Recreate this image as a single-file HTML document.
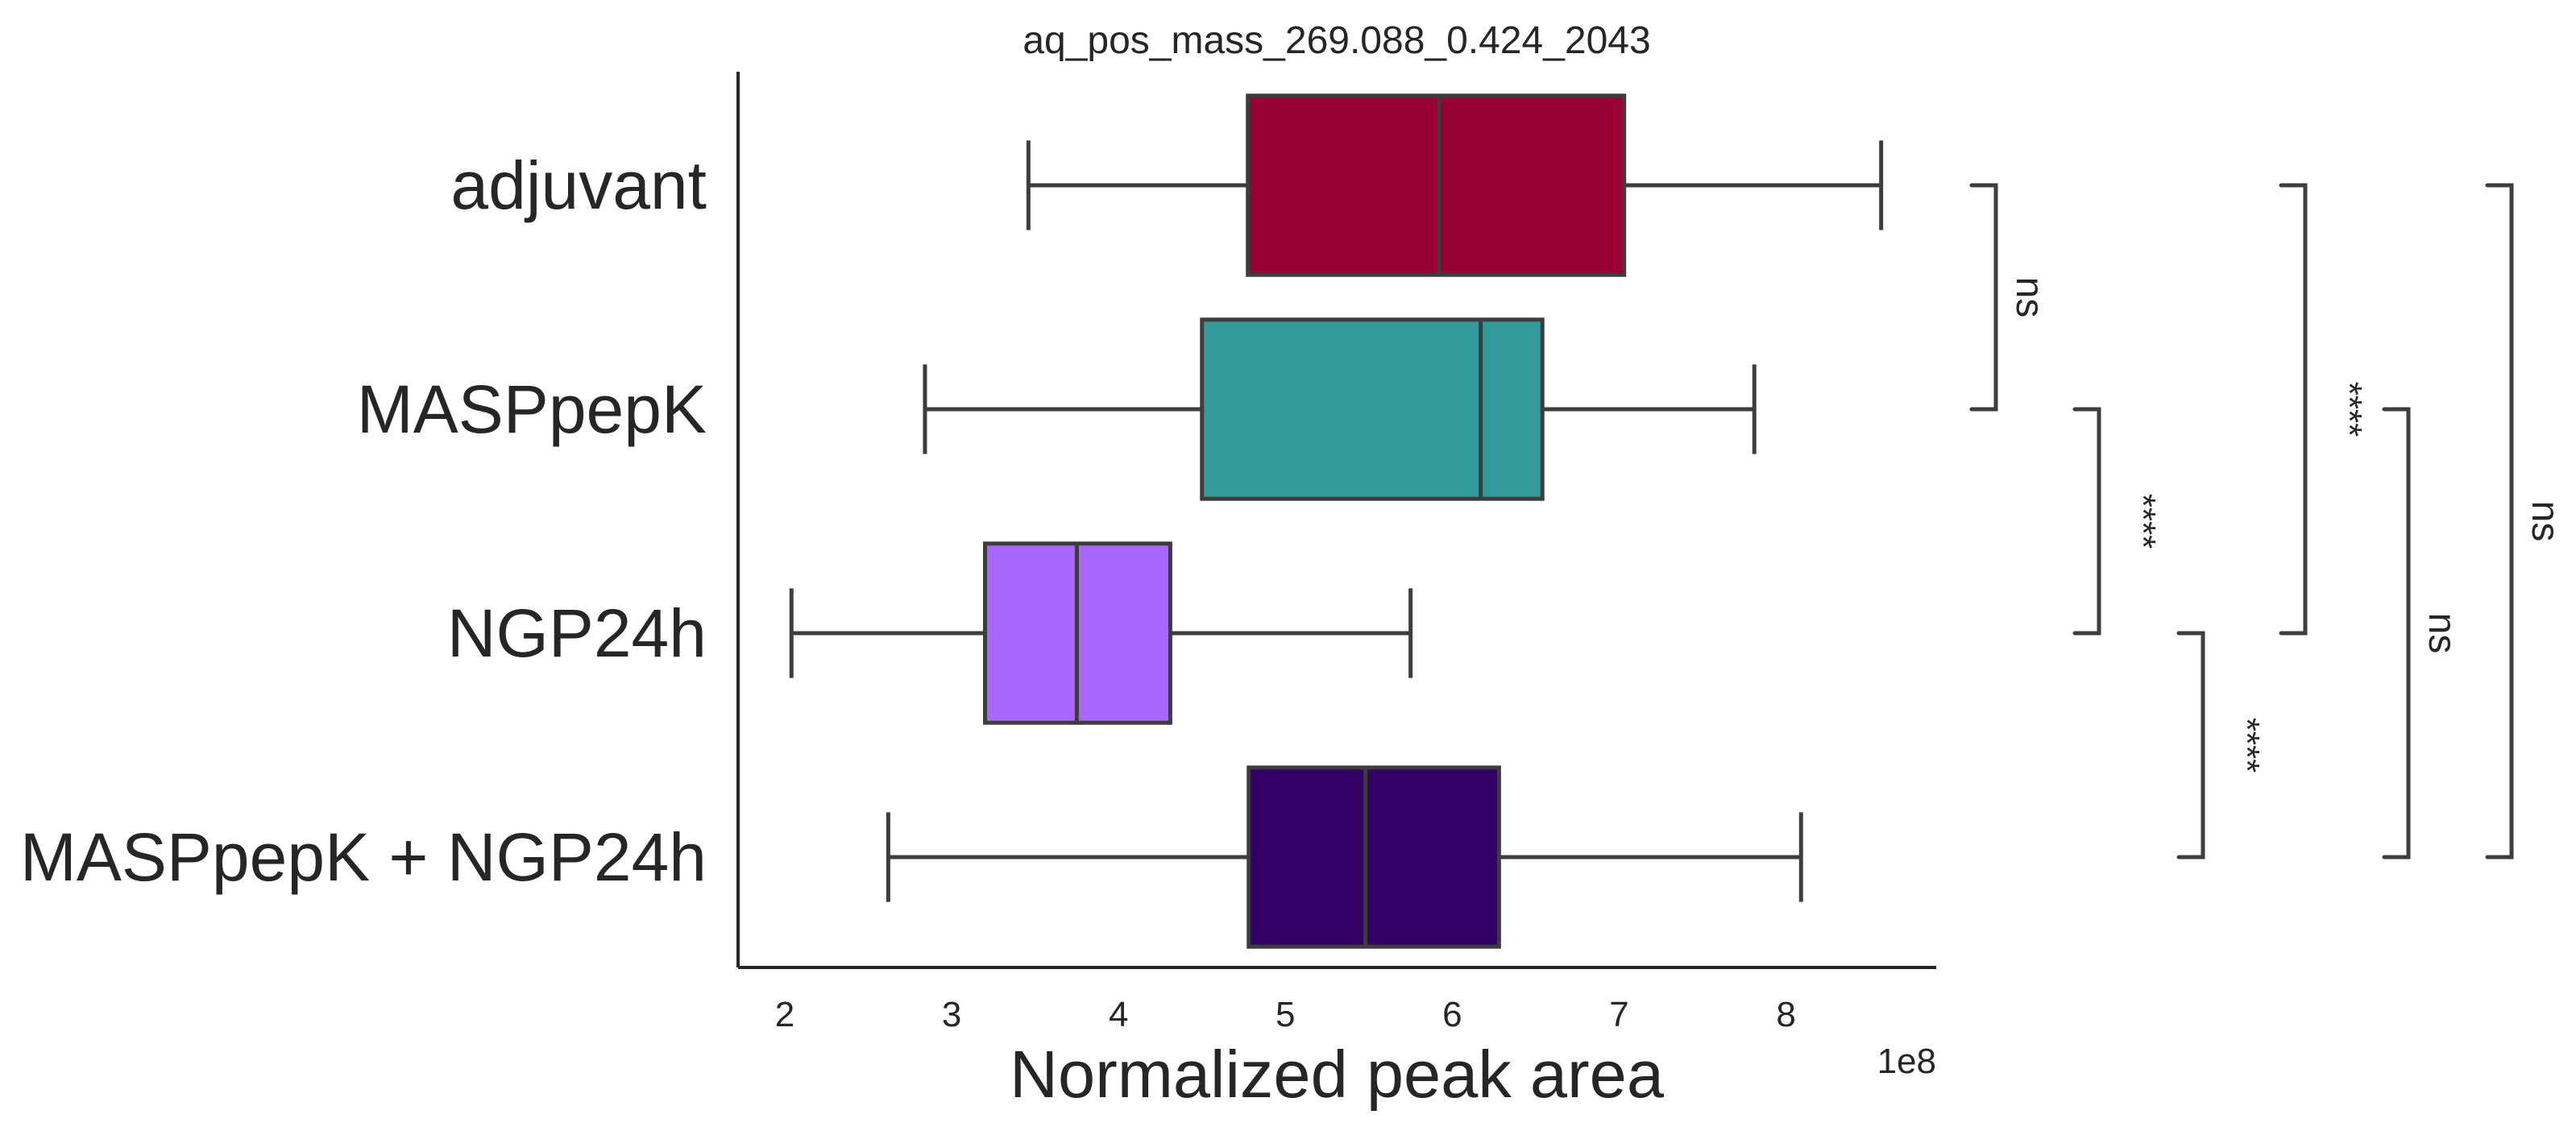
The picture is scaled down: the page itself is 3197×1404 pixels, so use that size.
<!DOCTYPE html>
<html><head><meta charset="utf-8"><style>
body{margin:0;background:#fff}
svg{display:block;font-family:"Liberation Sans",sans-serif}
</style></head><body>
<svg id="chart" width="3197" height="1404" viewBox="0 0 3197 1404">
<text x="1659" y="66" font-size="48" text-anchor="middle" fill="#262626">aq_pos_mass_269.088_0.424_2043</text>
<g id="plot"></g>
</svg>
<script>
const categories=["adjuvant","MASPpepK","NGP24h","MASPpepK + NGP24h"];
const whiskerLow=[3.46,2.84,2.04,2.62];
const q1=[4.775,4.50,3.20,4.78];
const medians=[5.92,6.17,3.75,5.48];
const q3=[7.03,6.54,4.31,6.28];
const whiskerHigh=[8.57,7.81,5.75,8.09];
const colors=["#990033","#339999","#aa66ff","#330066"];
const xTicks=[2,3,4,5,6,7,8];
const pairs=[[0,1],[1,2],[2,3],[0,2],[1,3],[0,3]];
const pairLabels=["ns","****","****","****","ns","ns"];

const NS="http://www.w3.org/2000/svg";
const g=document.getElementById('plot');
const X0=916,X1=2403,Y0=89,Y1=1201;
const xmin=1.72,xmax=8.90;
const xs=v=>X0+(v-xmin)/(xmax-xmin)*(X1-X0);
const band=(Y1-Y0)/categories.length;
const ys=i=>Y0+band*(i+0.5)+2;
const LC="#3d3d3d";
function el(t,a){const e=document.createElementNS(NS,t);for(const k in a)e.setAttribute(k,a[k]);g.appendChild(e);return e;}

const ya=el('line',{x1:X0,y1:Y0,x2:X0,y2:Y1,stroke:"#262626","stroke-width":4});


const xa=el('line',{x1:X0,y1:Y1,x2:X1,y2:Y1,stroke:"#262626","stroke-width":4});



xTicks.forEach(t=>{
  const tx=el('text',{x:xs(t),y:1274,"font-size":44,"text-anchor":"middle",fill:"#262626"});
  tx.textContent=t;
  
  
});
const xl=el('text',{x:1659,y:1362,"font-size":83,"text-anchor":"middle",fill:"#262626"});
xl.textContent="Normalized peak area";


const ex=el('text',{x:2403,y:1332,"font-size":44,"text-anchor":"end",fill:"#262626"});
ex.textContent="1e8";



const bh=band*0.8;
categories.forEach((c,i)=>{
  const y=ys(i);
  const lab=el('text',{x:877,y:y+29,"font-size":84,"text-anchor":"end",fill:"#262626"});
  lab.textContent=c;
  
  
  const w1=el('line',{x1:xs(whiskerLow[i]),y1:y,x2:xs(q1[i]),y2:y,stroke:LC,"stroke-width":5});
  
  
  const w2=el('line',{x1:xs(q3[i]),y1:y,x2:xs(whiskerHigh[i]),y2:y,stroke:LC,"stroke-width":5});
  
  
  [whiskerLow[i],whiskerHigh[i]].forEach(v=>{
    const cap=el('line',{x1:xs(v),y1:y-bh/4,x2:xs(v),y2:y+bh/4,stroke:LC,"stroke-width":5});
    
    
  });
  const r=el('rect',{x:xs(q1[i]),y:y-bh/2,width:xs(q3[i])-xs(q1[i]),height:bh,fill:colors[i],stroke:LC,"stroke-width":5});
  
  
  const m=el('line',{x1:xs(medians[i]),y1:y-bh/2,x2:xs(medians[i]),y2:y+bh/2,stroke:LC,"stroke-width":5});
  
  
});

const bx=[2477,2605,2734,2861,2989,3117];
pairs.forEach((p,k)=>{
  const ya_=ys(p[0]),yb=ys(p[1]),x=bx[k];
  const b=el('polyline',{points:`${x-30},${ya_} ${x},${ya_} ${x},${yb} ${x-30},${yb}`,fill:"none",stroke:LC,"stroke-width":5,"stroke-linecap":"round"});
  
  
  const ns=pairLabels[k]==="ns";
  const tx=x+(ns?26:40),ty=(ya_+yb)/2;
  const t=el('text',{x:tx,y:ty,"font-size":ns?48:44,"text-anchor":"middle",fill:"#262626",transform:`rotate(90 ${tx} ${ty})`});
  t.textContent=pairLabels[k];
  
  
});
</script>
</body></html>
